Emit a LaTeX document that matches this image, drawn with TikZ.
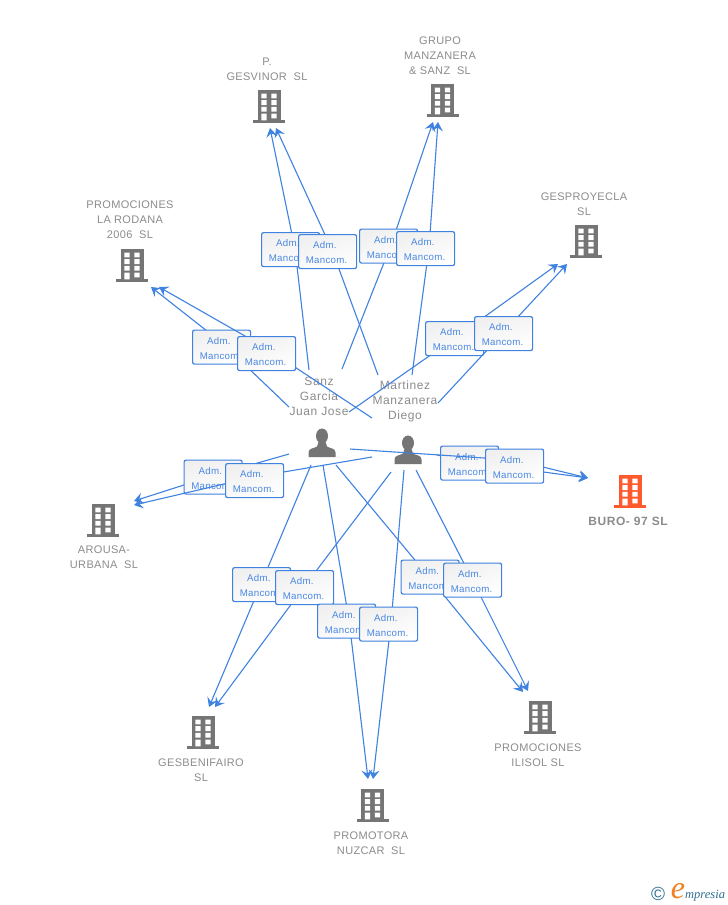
\documentclass[tikz,border=0pt]{standalone}
\usepackage{fontspec}
\setmainfont{Liberation Sans}
\newfontfamily\logofont{Liberation Serif}
\usetikzlibrary{arrows.meta,shadings,shapes.geometric}
\definecolor{linkblue}{HTML}{3F82E0}
\definecolor{admtext}{HTML}{4A88E2}
\definecolor{labelgrey}{HTML}{8C8C8C}
\definecolor{iconbody}{HTML}{757575}
\definecolor{burocol}{HTML}{FF5A2E}
\definecolor{logoteal}{HTML}{2F6F8F}
\definecolor{logoorange}{HTML}{F08020}
\tikzset{
  link/.style={draw=linkblue,line width=1.1pt,line join=round},
  tiplink/.style={link,-{Stealth[length=9pt,width=11pt,inset=3.5pt]}},
  admbox/.style={draw=linkblue,line width=1.2pt,rounded corners=2pt,minimum width=58pt,minimum height=34pt,
    inner sep=0pt,top color=black!6,bottom color=white,shading angle=20},
  admtxt/.style={text=admtext,inner sep=0pt,font=\fontsize{9.7}{15}\selectfont\addfontfeature{LetterSpace=3},align=center},
  blabel/.style={text=labelgrey,inner sep=0pt,align=center,font=\fontsize{11}{15}\selectfont\addfontfeature{LetterSpace=3}},
  bbold/.style={blabel,font=\fontsize{12}{15}\selectfont\bfseries\addfontfeature{LetterSpace=5}},
  plabel/.style={text=labelgrey,inner sep=0pt,align=center,font=\fontsize{12}{15}\selectfont\addfontfeature{LetterSpace=5}},
  bldgbody/.style={inner sep=0pt,minimum width=23pt,minimum height=31pt},
  personhead/.style={ellipse,inner sep=0pt},
}
% building: name, centre x, bottom y, colour
\newcommand{\bldg}[4]{%
  \begin{scope}[shift={(#2,#3)}]
    \node[bldgbody,fill=#4] (#1) at (0,-17.5) {};
    \fill[#4] (-16,-3) rectangle (16,0);
    \fill[white] (-7.7,-29.5) rectangle (-2.4,-24.7) (2.4,-29.5) rectangle (7.7,-24.7)
      (-7.7,-22.8) rectangle (-2.4,-18) (2.4,-22.8) rectangle (7.7,-18)
      (-7.7,-16.1) rectangle (-2.4,-11.3) (2.4,-16.1) rectangle (7.7,-11.3)
      (-7.7,-9.4) rectangle (-2.4,-2.6) (2.4,-9.4) rectangle (7.7,-4.6);
  \end{scope}}
% person: name, head x, head y
\newcommand{\persona}[3]{%
  \begin{scope}[shift={(#2,#3)}]
    \node[personhead,fill=iconbody,minimum width=12pt,minimum height=15pt] (#1) at (0,0) {};
    \fill[iconbody] (-13.5,21) -- (-13.5,16.5) .. controls (-13.5,12) and (-8,12.5) .. (-5,10.5)
      -- (-3.5,6) -- (3.5,6) -- (5,10.5) .. controls (8,12.5) and (13.5,12) .. (13.5,16.5) -- (13.5,21) -- cycle;
  \end{scope}}
% label box: name, left x, top y
\newcommand{\adm}[3]{%
  \node[admbox,anchor=north west] (#1) at (#2,#3) {};
  \node[admtxt] (#1t) at ([xshift=-1pt,yshift=-1.2pt]#1.center) {Adm.\kern3.5pt\\Mancom.};}
\begin{document}
\begin{tikzpicture}[x=1pt,y=-1pt]
\useasboundingbox (0,0) rectangle (728,905);
\fill[white] (0,0) rectangle (728,905);
% free ends of the connectors
\coordinate (s1) at (309,370); \coordinate (b1) at (295,249); \coordinate (t1) at (270,128);
\coordinate (s2) at (378,375); \coordinate (b2) at (332,250); \coordinate (t2) at (276,128);
\coordinate (s3) at (342,369); \coordinate (b3) at (391,245); \coordinate (t3) at (433,122);
\coordinate (s4) at (412,375); \coordinate (b4) at (429,248); \coordinate (t4) at (438,122);
\coordinate (s5) at (349,412); \coordinate (b5) at (455,338); \coordinate (t5) at (558,264);
\coordinate (s6) at (438,403); \coordinate (b6) at (503,333); \coordinate (t6) at (567,264);
\coordinate (s7) at (289,407); \coordinate (b7) at (221,342); \coordinate (t7) at (151,287);
\coordinate (s8) at (372,418); \coordinate (b8) at (266,348); \coordinate (t8) at (159,287);
\coordinate (s9) at (289,454); \coordinate (b9) at (212,476); \coordinate (t9) at (134,501);
\coordinate (s10) at (372,457); \coordinate (b10) at (254,477); \coordinate (t10) at (134,505);
\coordinate (s11) at (437,455); \coordinate (b11) at (469,462); \coordinate (t11) at (588,478);
\coordinate (s12) at (350,449); \coordinate (b12) at (514,460); \coordinate (t12) at (588,478);
\coordinate (s13) at (311,465); \coordinate (b13) at (261,584); \coordinate (t13) at (209,707);
\coordinate (s14) at (391,472); \coordinate (b14) at (304,587); \coordinate (t14) at (215,707);
\coordinate (s15) at (323,465); \coordinate (b15) at (349,620); \coordinate (t15) at (368,779);
\coordinate (s16) at (404,470); \coordinate (b16) at (391,623); \coordinate (t16) at (373,779);
\coordinate (s17) at (336,465); \coordinate (b17) at (429,577); \coordinate (t17) at (523,692);
\coordinate (s18) at (416,470); \coordinate (b18) at (472,579); \coordinate (t18) at (528,691);
% buildings
\bldg{gesvinor}{269}{123}{iconbody}
\bldg{manzanera}{442.5}{117}{iconbody}
\bldg{rodana}{132}{282}{iconbody}
\bldg{gesproyecla}{586}{258}{iconbody}
\bldg{buro}{630}{508}{burocol}
\bldg{arousa}{103}{537}{iconbody}
\bldg{gesbenifairo}{203}{749}{iconbody}
\bldg{nuzcar}{372.5}{822}{iconbody}
\bldg{ilisol}{540}{734}{iconbody}
% persons
\persona{sanz}{322}{436}
\persona{martinez}{408}{443}
% labels
\node[blabel] (lgesvinor) at (267,69) {P.\\GESVINOR\ \ SL};
\node[blabel] (lmanzanera) at (440,55.5) {GRUPO\\MANZANERA\\\&\ SANZ\ \ SL};
\node[blabel] (lrodana) at (130,219.5) {PROMOCIONES\\LA RODANA\\2006\ \ SL};
\node[blabel] (lgesproyecla) at (584,204) {GESPROYECLA\\SL};
\node[bbold] (lburo) at (628,521) {BURO- 97 SL};
\node[blabel] (larousa) at (104,557) {AROUSA-\\URBANA\ \ SL};
\node[blabel] (lgesbenifairo) at (201,770) {GESBENIFAIRO\\SL};
\node[blabel] (lnuzcar) at (371,843) {PROMOTORA\\NUZCAR\ \ SL};
\node[blabel] (lilisol) at (538,755) {PROMOCIONES\\ILISOL SL};
\node[plabel] (lsanz) at (319,396.5) {Sanz\\Garcia\\Juan Jose};
\node[plabel] (lmartinez) at (405,401.5) {Martinez\\Manzanera\\Diego};
% connectors and their boxes, back to front
\draw[tiplink] (s1) -- (b1) -- (t1);
\adm{a1}{261}{232}
\draw[tiplink] (s2) -- (b2) -- (t2);
\adm{a2}{298}{234}
\draw[tiplink] (s3) -- (b3) -- (t3);
\adm{a3}{359}{228.5}
\draw[tiplink] (s4) -- (b4) -- (t4);
\adm{a4}{396}{231}
\draw[tiplink] (s5) -- (b5) -- (t5);
\adm{a5}{425}{321}
\draw[tiplink] (s6) -- (b6) -- (t6);
\adm{a6}{474}{316}
\draw[tiplink] (s7) -- (b7) -- (t7);
\adm{a7}{192}{329.5}
\draw[tiplink] (s8) -- (b8) -- (t8);
\adm{a8}{237}{336}
\draw[tiplink] (s9) -- (b9) -- (t9);
\adm{a9}{183.5}{459.5}
\draw[tiplink] (s10) -- (b10) -- (t10);
\adm{a10}{225}{463}
\draw[tiplink] (s11) -- (b11) -- (t11);
\adm{a11}{440}{445.5}
\draw[tiplink] (s12) -- (b12) -- (t12);
\adm{a12}{485}{448.5}
\draw[tiplink] (s13) -- (b13) -- (t13);
\adm{a13}{232}{567}
\draw[tiplink] (s14) -- (b14) -- (t14);
\adm{a14}{275}{570}
\draw[tiplink] (s15) -- (b15) -- (t15);
\adm{a15}{317}{603.5}
\draw[tiplink] (s16) -- (b16) -- (t16);
\adm{a16}{359}{606.5}
\draw[tiplink] (s17) -- (b17) -- (t17);
\adm{a17}{400.5}{559.5}
\draw[tiplink] (s18) -- (b18) -- (t18);
\adm{a18}{443}{562.5}
% logo
\node[inner sep=0pt,text=logoteal,font=\fontsize{19}{19}\selectfont] (copyr) at (658,893.5) {©};
\node[inner sep=0pt,text=logoorange,anchor=base,font=\logofont\itshape\fontsize{32}{32}\selectfont] (logoe) at (678,898.5) {e};
\node[inner sep=0pt,text=logoteal,anchor=base west,font=\logofont\itshape\fontsize{12.5}{13}\selectfont] (logom) at (685,898.5) {mpresia};
\end{tikzpicture}
\end{document}
